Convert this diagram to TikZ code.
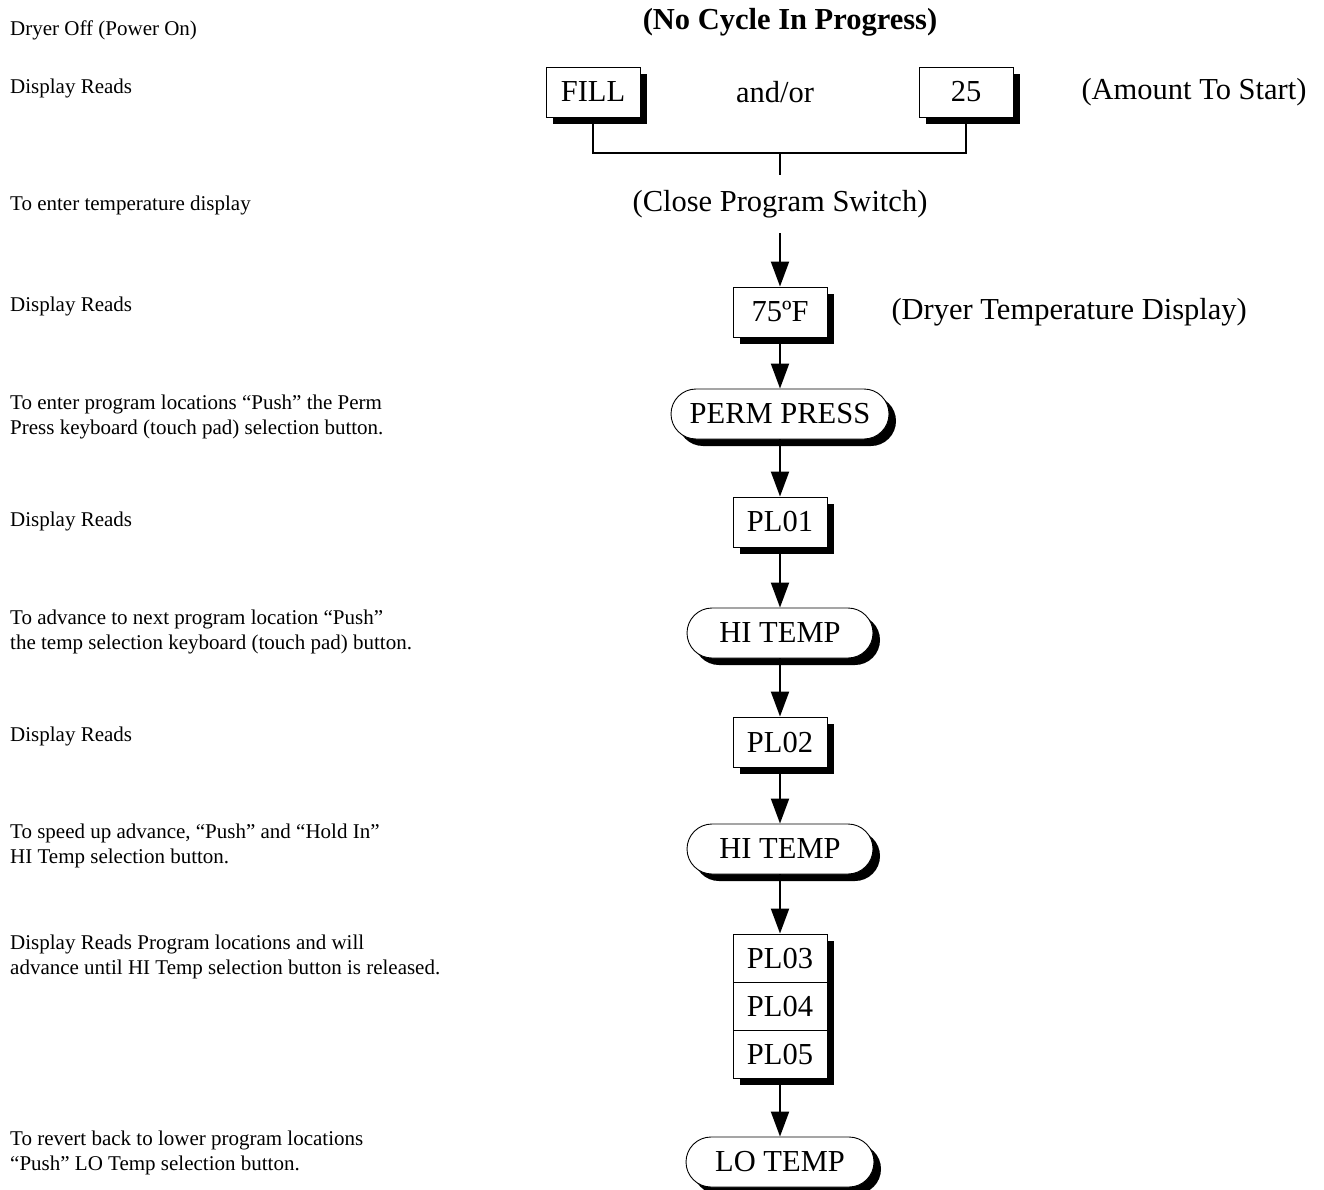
\documentclass[tikz,border=0pt]{standalone}
\usepackage{fontspec}
\setmainfont{Liberation Serif}
\usetikzlibrary{arrows.meta,shapes.misc,shadows}
\tikzset{
  shade/.style={drop shadow={shadow xshift=7pt, shadow yshift=-7pt, fill=black, opacity=1}},
  disp/.style={draw, line width=0.9pt, fill=white, minimum width=94pt, minimum height=50pt, inner sep=0pt, font=\fontsize{30.5}{36}\selectfont, shade},
  key/.style={rounded rectangle, draw, line width=0.9pt, fill=white, minimum height=50pt, inner sep=0pt, font=\fontsize{30.5}{36}\selectfont, shade},
  note/.style={anchor=west, align=left, inner sep=0pt, font=\fontsize{21}{25}\selectfont},
  big/.style={font=\fontsize{30.5}{36}\selectfont},
  flow/.style={line width=2pt, -{Triangle[length=25pt,width=18pt]}},
  wire/.style={line width=2pt},
}
\begin{document}
\begin{tikzpicture}[x=1pt,y=-1pt]
  \useasboundingbox (0,0) rectangle (1324,1190);

  % left column notes
  \node[note] (nOff) at (10,30) {Dryer Off (Power On)};
  \node[note] (nRead1) at (10,88) {Display Reads};
  \node[note] (nTemp) at (10,205) {To enter temperature display};
  \node[note] (nRead2) at (10,306) {Display Reads};
  \node[note] (nPerm) at (10,417) {To enter program locations “Push” the Perm\\Press keyboard (touch pad) selection button.};
  \node[note] (nRead3) at (10,521) {Display Reads};
  \node[note] (nAdv) at (10,632) {To advance to next program location “Push”\\the temp selection keyboard (touch pad) button.};
  \node[note] (nRead4) at (10,736) {Display Reads};
  \node[note] (nSpeed) at (10,846) {To speed up advance, “Push” and “Hold In”\\HI Temp selection button.};
  \node[note] (nRead5) at (10,957) {Display Reads Program locations and will\\advance until HI Temp selection button is released.};
  \node[note] (nLo) at (10,1153) {To revert back to lower program locations\\“Push” LO Temp selection button.};

  % top
  \node[big, font=\fontsize{30.5}{36}\selectfont\bfseries] (idle) at (790,22) {(No Cycle In Progress)};
  \node[disp] (fill) at (593,92) {FILL};
  \node[disp] (amt) at (966,92) {25};
  \node[big] (andor) at (775,92) {and/or};
  \node[big] (start) at (1194,92) {(Amount To Start)};
  \coordinate (join) at (780,153);
  \node[big, inner ysep=15pt] (close) at (780,204) {(Close Program Switch)};

  \draw[wire] (fill.south) |- (join) -| (amt.south);
  \draw[wire] (join) -- (close.north);

  % main column
  \node[disp] (temp) at (780,312) {75ºF};
  \node[big, anchor=west] (tempnote) at (888,312) {(Dryer Temperature Display)};
  \node[key, minimum width=218pt] (perm) at (780,414) {PERM PRESS};
  \node[disp] (pl01) at (780,522) {PL01};
  \node[key, minimum width=186pt] (hi1) at (780,633) {HI TEMP};
  \node[disp] (pl02) at (780,742) {PL02};
  \node[key, minimum width=186pt] (hi2) at (780,849) {HI TEMP};
  \node[disp, minimum height=48pt] (pl03) at (780,958) {PL03};
  \node[disp, minimum height=48pt] (pl04) at (780,1006) {PL04};
  \node[disp, minimum height=48pt] (pl05) at (780,1054) {PL05};
  \node[key, minimum width=188pt] (lo) at (780,1162) {LO TEMP};

  \draw[flow] (close.south) -- (temp.north);
  \draw[flow] (temp.south) -- (perm.north);
  \draw[flow] (perm.south) -- (pl01.north);
  \draw[flow] (pl01.south) -- (hi1.north);
  \draw[flow] (hi1.south) -- (pl02.north);
  \draw[flow] (pl02.south) -- (hi2.north);
  \draw[flow] (hi2.south) -- (pl03.north);
  \draw[flow] (pl05.south) -- (lo.north);
\end{tikzpicture}
\end{document}
